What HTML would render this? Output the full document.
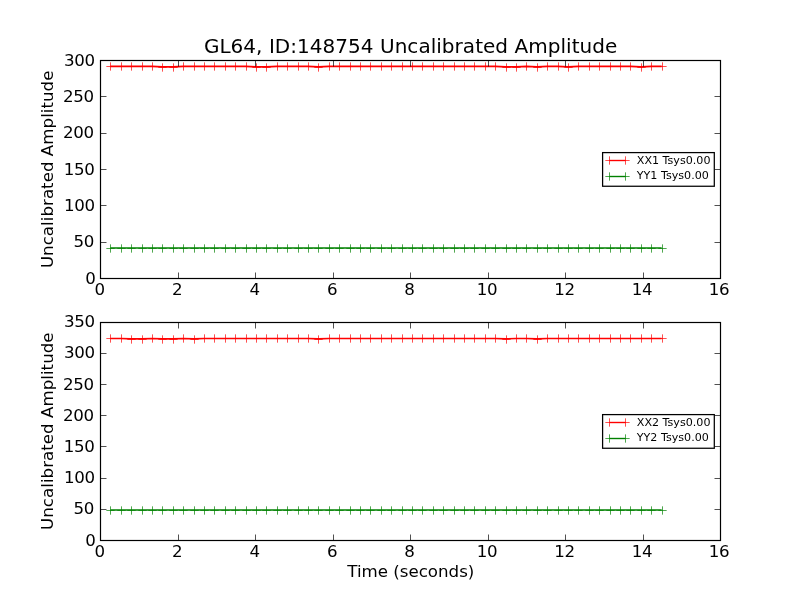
<!DOCTYPE html>
<html lang="en"><head><meta charset="utf-8"><title>GL64, ID:148754 Uncalibrated Amplitude</title>
<style>html,body{margin:0;padding:0;background:#fff;overflow:hidden}svg{display:block}text{white-space:pre}</style>
</head><body>
<svg width="800" height="600" viewBox="0 0 800 600" font-family='"DejaVu Sans","Liberation Sans",sans-serif' fill="#000">
<rect width="800" height="600" fill="#fff"/>
<polyline points="110.40,66.35 120.80,66.35 131.21,66.35 141.61,66.35 152.01,66.35 162.41,66.85 172.81,66.85 183.21,66.35 193.62,66.35 204.02,66.35 214.42,66.35 224.82,66.35 235.22,66.35 245.63,66.35 256.03,66.85 266.43,66.85 276.83,66.35 287.23,66.35 297.64,66.35 308.04,66.35 318.44,66.85 328.84,66.35 339.24,66.35 349.64,66.35 360.05,66.35 370.45,66.35 380.85,66.35 391.25,66.35 401.65,66.35 412.06,66.35 422.46,66.35 432.86,66.35 443.26,66.35 453.66,66.35 464.07,66.35 474.47,66.35 484.87,66.35 495.27,66.35 505.67,66.85 516.07,66.85 526.48,66.35 536.88,66.85 547.28,66.35 557.68,66.35 568.08,66.85 578.49,66.35 588.89,66.35 599.29,66.35 609.69,66.35 620.09,66.35 630.50,66.35 640.90,66.85 651.30,66.35 661.70,66.35" fill="none" stroke="#ff0000" stroke-width="1.6" stroke-linejoin="round"/>
<path d="M106.33 66.5h8.34M110.5 62.33v8.34M117.33 66.5h8.34M121.5 62.33v8.34M127.33 66.5h8.34M131.5 62.33v8.34M138.33 66.5h8.34M142.5 62.33v8.34M148.33 66.5h8.34M152.5 62.33v8.34M158.33 67.5h8.34M162.5 63.33v8.34M169.33 67.5h8.34M173.5 63.33v8.34M179.33 66.5h8.34M183.5 62.33v8.34M190.33 66.5h8.34M194.5 62.33v8.34M200.33 66.5h8.34M204.5 62.33v8.34M210.33 66.5h8.34M214.5 62.33v8.34M221.33 66.5h8.34M225.5 62.33v8.34M231.33 66.5h8.34M235.5 62.33v8.34M242.33 66.5h8.34M246.5 62.33v8.34M252.33 67.5h8.34M256.5 63.33v8.34M262.33 67.5h8.34M266.5 63.33v8.34M273.33 66.5h8.34M277.5 62.33v8.34M283.33 66.5h8.34M287.5 62.33v8.34M294.33 66.5h8.34M298.5 62.33v8.34M304.33 66.5h8.34M308.5 62.33v8.34M314.33 67.5h8.34M318.5 63.33v8.34M325.33 66.5h8.34M329.5 62.33v8.34M335.33 66.5h8.34M339.5 62.33v8.34M346.33 66.5h8.34M350.5 62.33v8.34M356.33 66.5h8.34M360.5 62.33v8.34M366.33 66.5h8.34M370.5 62.33v8.34M377.33 66.5h8.34M381.5 62.33v8.34M387.33 66.5h8.34M391.5 62.33v8.34M398.33 66.5h8.34M402.5 62.33v8.34M408.33 66.5h8.34M412.5 62.33v8.34M418.33 66.5h8.34M422.5 62.33v8.34M429.33 66.5h8.34M433.5 62.33v8.34M439.33 66.5h8.34M443.5 62.33v8.34M450.33 66.5h8.34M454.5 62.33v8.34M460.33 66.5h8.34M464.5 62.33v8.34M470.33 66.5h8.34M474.5 62.33v8.34M481.33 66.5h8.34M485.5 62.33v8.34M491.33 66.5h8.34M495.5 62.33v8.34M502.33 67.5h8.34M506.5 63.33v8.34M512.33 67.5h8.34M516.5 63.33v8.34M522.33 66.5h8.34M526.5 62.33v8.34M533.33 67.5h8.34M537.5 63.33v8.34M543.33 66.5h8.34M547.5 62.33v8.34M554.33 66.5h8.34M558.5 62.33v8.34M564.33 67.5h8.34M568.5 63.33v8.34M574.33 66.5h8.34M578.5 62.33v8.34M585.33 66.5h8.34M589.5 62.33v8.34M595.33 66.5h8.34M599.5 62.33v8.34M606.33 66.5h8.34M610.5 62.33v8.34M616.33 66.5h8.34M620.5 62.33v8.34M626.33 66.5h8.34M630.5 62.33v8.34M637.33 67.5h8.34M641.5 63.33v8.34M647.33 66.5h8.34M651.5 62.33v8.34M658.33 66.5h8.34M662.5 62.33v8.34" fill="none" stroke="#ff0000" stroke-width="0.69"/>
<polyline points="110.40,248.00 120.80,248.00 131.21,248.00 141.61,248.00 152.01,248.00 162.41,248.00 172.81,248.00 183.21,248.00 193.62,248.00 204.02,248.00 214.42,248.00 224.82,248.00 235.22,248.00 245.63,248.00 256.03,248.00 266.43,248.00 276.83,248.00 287.23,248.00 297.64,248.00 308.04,248.00 318.44,248.00 328.84,248.00 339.24,248.00 349.64,248.00 360.05,248.00 370.45,248.00 380.85,248.00 391.25,248.00 401.65,248.00 412.06,248.00 422.46,248.00 432.86,248.00 443.26,248.00 453.66,248.00 464.07,248.00 474.47,248.00 484.87,248.00 495.27,248.00 505.67,248.00 516.07,248.00 526.48,248.00 536.88,248.00 547.28,248.00 557.68,248.00 568.08,248.00 578.49,248.00 588.89,248.00 599.29,248.00 609.69,248.00 620.09,248.00 630.50,248.00 640.90,248.00 651.30,248.00 661.70,248.00" fill="none" stroke="#008000" stroke-width="1.6" stroke-linejoin="round"/>
<path d="M106.33 248.5h8.34M110.5 244.33v8.34M117.33 248.5h8.34M121.5 244.33v8.34M127.33 248.5h8.34M131.5 244.33v8.34M138.33 248.5h8.34M142.5 244.33v8.34M148.33 248.5h8.34M152.5 244.33v8.34M158.33 248.5h8.34M162.5 244.33v8.34M169.33 248.5h8.34M173.5 244.33v8.34M179.33 248.5h8.34M183.5 244.33v8.34M190.33 248.5h8.34M194.5 244.33v8.34M200.33 248.5h8.34M204.5 244.33v8.34M210.33 248.5h8.34M214.5 244.33v8.34M221.33 248.5h8.34M225.5 244.33v8.34M231.33 248.5h8.34M235.5 244.33v8.34M242.33 248.5h8.34M246.5 244.33v8.34M252.33 248.5h8.34M256.5 244.33v8.34M262.33 248.5h8.34M266.5 244.33v8.34M273.33 248.5h8.34M277.5 244.33v8.34M283.33 248.5h8.34M287.5 244.33v8.34M294.33 248.5h8.34M298.5 244.33v8.34M304.33 248.5h8.34M308.5 244.33v8.34M314.33 248.5h8.34M318.5 244.33v8.34M325.33 248.5h8.34M329.5 244.33v8.34M335.33 248.5h8.34M339.5 244.33v8.34M346.33 248.5h8.34M350.5 244.33v8.34M356.33 248.5h8.34M360.5 244.33v8.34M366.33 248.5h8.34M370.5 244.33v8.34M377.33 248.5h8.34M381.5 244.33v8.34M387.33 248.5h8.34M391.5 244.33v8.34M398.33 248.5h8.34M402.5 244.33v8.34M408.33 248.5h8.34M412.5 244.33v8.34M418.33 248.5h8.34M422.5 244.33v8.34M429.33 248.5h8.34M433.5 244.33v8.34M439.33 248.5h8.34M443.5 244.33v8.34M450.33 248.5h8.34M454.5 244.33v8.34M460.33 248.5h8.34M464.5 244.33v8.34M470.33 248.5h8.34M474.5 244.33v8.34M481.33 248.5h8.34M485.5 244.33v8.34M491.33 248.5h8.34M495.5 244.33v8.34M502.33 248.5h8.34M506.5 244.33v8.34M512.33 248.5h8.34M516.5 244.33v8.34M522.33 248.5h8.34M526.5 244.33v8.34M533.33 248.5h8.34M537.5 244.33v8.34M543.33 248.5h8.34M547.5 244.33v8.34M554.33 248.5h8.34M558.5 244.33v8.34M564.33 248.5h8.34M568.5 244.33v8.34M574.33 248.5h8.34M578.5 244.33v8.34M585.33 248.5h8.34M589.5 244.33v8.34M595.33 248.5h8.34M599.5 244.33v8.34M606.33 248.5h8.34M610.5 244.33v8.34M616.33 248.5h8.34M620.5 244.33v8.34M626.33 248.5h8.34M630.5 244.33v8.34M637.33 248.5h8.34M641.5 244.33v8.34M647.33 248.5h8.34M651.5 244.33v8.34M658.33 248.5h8.34M662.5 244.33v8.34" fill="none" stroke="#008000" stroke-width="0.69"/>
<path d="M100.5 278.5v-6.0M100.5 60.5v6.0M178.5 278.5v-6.0M178.5 60.5v6.0M255.5 278.5v-6.0M255.5 60.5v6.0M333.5 278.5v-6.0M333.5 60.5v6.0M410.5 278.5v-6.0M410.5 60.5v6.0M488.5 278.5v-6.0M488.5 60.5v6.0M565.5 278.5v-6.0M565.5 60.5v6.0M643.5 278.5v-6.0M643.5 60.5v6.0M720.5 278.5v-6.0M720.5 60.5v6.0M100.5 278.5h6.0M720.5 278.5h-6.0M100.5 242.5h6.0M720.5 242.5h-6.0M100.5 205.5h6.0M720.5 205.5h-6.0M100.5 169.5h6.0M720.5 169.5h-6.0M100.5 133.5h6.0M720.5 133.5h-6.0M100.5 96.5h6.0M720.5 96.5h-6.0M100.5 60.5h6.0M720.5 60.5h-6.0" fill="none" stroke="#000" stroke-width="0.69"/>
<rect x="100.5" y="60.5" width="620.0" height="218.0" fill="none" stroke="#000" stroke-width="1.2"/>
<g font-size="16.67px">
<text x="99.60" y="294.68" text-anchor="middle" letter-spacing="-0.35">0</text>
<text x="177.10" y="294.68" text-anchor="middle" letter-spacing="-0.35">2</text>
<text x="254.60" y="294.68" text-anchor="middle" letter-spacing="-0.35">4</text>
<text x="332.10" y="294.68" text-anchor="middle" letter-spacing="-0.35">6</text>
<text x="409.30" y="294.68" text-anchor="middle" letter-spacing="-0.35">8</text>
<text x="486.90" y="294.68" text-anchor="middle" letter-spacing="-0.35">10</text>
<text x="564.40" y="294.68" text-anchor="middle" letter-spacing="-0.35">12</text>
<text x="641.90" y="294.68" text-anchor="middle" letter-spacing="-0.35">14</text>
<text x="719.10" y="294.68" text-anchor="middle" letter-spacing="-0.35">16</text>
<text x="95.42" y="284.05" text-anchor="end" letter-spacing="-0.35">0</text>
<text x="93.95" y="247.05" text-anchor="end" letter-spacing="-0.35">50</text>
<text x="94.75" y="211.05" text-anchor="end" letter-spacing="-0.35">100</text>
<text x="94.45" y="175.05" text-anchor="end" letter-spacing="-0.35">150</text>
<text x="93.75" y="138.05" text-anchor="end" letter-spacing="-0.35">200</text>
<text x="93.75" y="102.05" text-anchor="end" letter-spacing="-0.35">250</text>
<text x="94.75" y="66.05" text-anchor="end" letter-spacing="-0.35">300</text>
<text transform="translate(53.3 169.34) rotate(-90)" text-anchor="middle" letter-spacing="0.025">Uncalibrated Amplitude</text>
</g>
<rect x="602.6" y="152.60" width="111.70" height="33.65" fill="#fff" stroke="#000" stroke-width="1.25"/>
<path d="M609.5 160.5H625.5" stroke="#ff0000" stroke-width="1.39" fill="none"/>
<path d="M605.33 160.5h8.34M609.5 156.33v8.34M621.33 160.5h8.34M625.5 156.33v8.34" stroke="#ff0000" stroke-width="0.69" fill="none"/>
<text x="636.8" y="164.19" font-size="11.11px">XX1 Tsys0.00</text>
<path d="M609.5 176.5H625.5" stroke="#008000" stroke-width="1.39" fill="none"/>
<path d="M605.33 176.5h8.34M609.5 172.33v8.34M621.33 176.5h8.34M625.5 172.33v8.34" stroke="#008000" stroke-width="0.69" fill="none"/>
<text x="636.8" y="179.19" font-size="11.11px">YY1 Tsys0.00</text>
<polyline points="110.40,338.50 120.80,338.50 131.21,338.90 141.61,338.90 152.01,338.50 162.41,338.90 172.81,338.90 183.21,338.50 193.62,338.90 204.02,338.50 214.42,338.50 224.82,338.50 235.22,338.50 245.63,338.50 256.03,338.50 266.43,338.50 276.83,338.50 287.23,338.50 297.64,338.50 308.04,338.50 318.44,338.90 328.84,338.50 339.24,338.50 349.64,338.50 360.05,338.50 370.45,338.50 380.85,338.50 391.25,338.50 401.65,338.50 412.06,338.50 422.46,338.50 432.86,338.50 443.26,338.50 453.66,338.50 464.07,338.50 474.47,338.50 484.87,338.50 495.27,338.50 505.67,338.90 516.07,338.50 526.48,338.50 536.88,338.90 547.28,338.50 557.68,338.50 568.08,338.50 578.49,338.50 588.89,338.50 599.29,338.50 609.69,338.50 620.09,338.50 630.50,338.50 640.90,338.50 651.30,338.50 661.70,338.50" fill="none" stroke="#ff0000" stroke-width="1.6" stroke-linejoin="round"/>
<path d="M106.33 338.5h8.34M110.5 334.33v8.34M117.33 338.5h8.34M121.5 334.33v8.34M127.33 339.5h8.34M131.5 335.33v8.34M138.33 339.5h8.34M142.5 335.33v8.34M148.33 338.5h8.34M152.5 334.33v8.34M158.33 339.5h8.34M162.5 335.33v8.34M169.33 339.5h8.34M173.5 335.33v8.34M179.33 338.5h8.34M183.5 334.33v8.34M190.33 339.5h8.34M194.5 335.33v8.34M200.33 338.5h8.34M204.5 334.33v8.34M210.33 338.5h8.34M214.5 334.33v8.34M221.33 338.5h8.34M225.5 334.33v8.34M231.33 338.5h8.34M235.5 334.33v8.34M242.33 338.5h8.34M246.5 334.33v8.34M252.33 338.5h8.34M256.5 334.33v8.34M262.33 338.5h8.34M266.5 334.33v8.34M273.33 338.5h8.34M277.5 334.33v8.34M283.33 338.5h8.34M287.5 334.33v8.34M294.33 338.5h8.34M298.5 334.33v8.34M304.33 338.5h8.34M308.5 334.33v8.34M314.33 339.5h8.34M318.5 335.33v8.34M325.33 338.5h8.34M329.5 334.33v8.34M335.33 338.5h8.34M339.5 334.33v8.34M346.33 338.5h8.34M350.5 334.33v8.34M356.33 338.5h8.34M360.5 334.33v8.34M366.33 338.5h8.34M370.5 334.33v8.34M377.33 338.5h8.34M381.5 334.33v8.34M387.33 338.5h8.34M391.5 334.33v8.34M398.33 338.5h8.34M402.5 334.33v8.34M408.33 338.5h8.34M412.5 334.33v8.34M418.33 338.5h8.34M422.5 334.33v8.34M429.33 338.5h8.34M433.5 334.33v8.34M439.33 338.5h8.34M443.5 334.33v8.34M450.33 338.5h8.34M454.5 334.33v8.34M460.33 338.5h8.34M464.5 334.33v8.34M470.33 338.5h8.34M474.5 334.33v8.34M481.33 338.5h8.34M485.5 334.33v8.34M491.33 338.5h8.34M495.5 334.33v8.34M502.33 339.5h8.34M506.5 335.33v8.34M512.33 338.5h8.34M516.5 334.33v8.34M522.33 338.5h8.34M526.5 334.33v8.34M533.33 339.5h8.34M537.5 335.33v8.34M543.33 338.5h8.34M547.5 334.33v8.34M554.33 338.5h8.34M558.5 334.33v8.34M564.33 338.5h8.34M568.5 334.33v8.34M574.33 338.5h8.34M578.5 334.33v8.34M585.33 338.5h8.34M589.5 334.33v8.34M595.33 338.5h8.34M599.5 334.33v8.34M606.33 338.5h8.34M610.5 334.33v8.34M616.33 338.5h8.34M620.5 334.33v8.34M626.33 338.5h8.34M630.5 334.33v8.34M637.33 338.5h8.34M641.5 334.33v8.34M647.33 338.5h8.34M651.5 334.33v8.34M658.33 338.5h8.34M662.5 334.33v8.34" fill="none" stroke="#ff0000" stroke-width="0.69"/>
<polyline points="110.40,510.00 120.80,510.00 131.21,510.00 141.61,510.00 152.01,510.00 162.41,510.00 172.81,510.00 183.21,510.00 193.62,510.00 204.02,510.00 214.42,510.00 224.82,510.00 235.22,510.00 245.63,510.00 256.03,510.00 266.43,510.00 276.83,510.00 287.23,510.00 297.64,510.00 308.04,510.00 318.44,510.00 328.84,510.00 339.24,510.00 349.64,510.00 360.05,510.00 370.45,510.00 380.85,510.00 391.25,510.00 401.65,510.00 412.06,510.00 422.46,510.00 432.86,510.00 443.26,510.00 453.66,510.00 464.07,510.00 474.47,510.00 484.87,510.00 495.27,510.00 505.67,510.00 516.07,510.00 526.48,510.00 536.88,510.00 547.28,510.00 557.68,510.00 568.08,510.00 578.49,510.00 588.89,510.00 599.29,510.00 609.69,510.00 620.09,510.00 630.50,510.00 640.90,510.00 651.30,510.00 661.70,510.00" fill="none" stroke="#008000" stroke-width="1.6" stroke-linejoin="round"/>
<path d="M106.33 510.5h8.34M110.5 506.33v8.34M117.33 510.5h8.34M121.5 506.33v8.34M127.33 510.5h8.34M131.5 506.33v8.34M138.33 510.5h8.34M142.5 506.33v8.34M148.33 510.5h8.34M152.5 506.33v8.34M158.33 510.5h8.34M162.5 506.33v8.34M169.33 510.5h8.34M173.5 506.33v8.34M179.33 510.5h8.34M183.5 506.33v8.34M190.33 510.5h8.34M194.5 506.33v8.34M200.33 510.5h8.34M204.5 506.33v8.34M210.33 510.5h8.34M214.5 506.33v8.34M221.33 510.5h8.34M225.5 506.33v8.34M231.33 510.5h8.34M235.5 506.33v8.34M242.33 510.5h8.34M246.5 506.33v8.34M252.33 510.5h8.34M256.5 506.33v8.34M262.33 510.5h8.34M266.5 506.33v8.34M273.33 510.5h8.34M277.5 506.33v8.34M283.33 510.5h8.34M287.5 506.33v8.34M294.33 510.5h8.34M298.5 506.33v8.34M304.33 510.5h8.34M308.5 506.33v8.34M314.33 510.5h8.34M318.5 506.33v8.34M325.33 510.5h8.34M329.5 506.33v8.34M335.33 510.5h8.34M339.5 506.33v8.34M346.33 510.5h8.34M350.5 506.33v8.34M356.33 510.5h8.34M360.5 506.33v8.34M366.33 510.5h8.34M370.5 506.33v8.34M377.33 510.5h8.34M381.5 506.33v8.34M387.33 510.5h8.34M391.5 506.33v8.34M398.33 510.5h8.34M402.5 506.33v8.34M408.33 510.5h8.34M412.5 506.33v8.34M418.33 510.5h8.34M422.5 506.33v8.34M429.33 510.5h8.34M433.5 506.33v8.34M439.33 510.5h8.34M443.5 506.33v8.34M450.33 510.5h8.34M454.5 506.33v8.34M460.33 510.5h8.34M464.5 506.33v8.34M470.33 510.5h8.34M474.5 506.33v8.34M481.33 510.5h8.34M485.5 506.33v8.34M491.33 510.5h8.34M495.5 506.33v8.34M502.33 510.5h8.34M506.5 506.33v8.34M512.33 510.5h8.34M516.5 506.33v8.34M522.33 510.5h8.34M526.5 506.33v8.34M533.33 510.5h8.34M537.5 506.33v8.34M543.33 510.5h8.34M547.5 506.33v8.34M554.33 510.5h8.34M558.5 506.33v8.34M564.33 510.5h8.34M568.5 506.33v8.34M574.33 510.5h8.34M578.5 506.33v8.34M585.33 510.5h8.34M589.5 506.33v8.34M595.33 510.5h8.34M599.5 506.33v8.34M606.33 510.5h8.34M610.5 506.33v8.34M616.33 510.5h8.34M620.5 506.33v8.34M626.33 510.5h8.34M630.5 506.33v8.34M637.33 510.5h8.34M641.5 506.33v8.34M647.33 510.5h8.34M651.5 506.33v8.34M658.33 510.5h8.34M662.5 506.33v8.34" fill="none" stroke="#008000" stroke-width="0.69"/>
<path d="M100.5 540.5v-6.0M100.5 322.5v6.0M178.5 540.5v-6.0M178.5 322.5v6.0M255.5 540.5v-6.0M255.5 322.5v6.0M333.5 540.5v-6.0M333.5 322.5v6.0M410.5 540.5v-6.0M410.5 322.5v6.0M488.5 540.5v-6.0M488.5 322.5v6.0M565.5 540.5v-6.0M565.5 322.5v6.0M643.5 540.5v-6.0M643.5 322.5v6.0M720.5 540.5v-6.0M720.5 322.5v6.0M100.5 540.5h6.0M720.5 540.5h-6.0M100.5 509.5h6.0M720.5 509.5h-6.0M100.5 478.5h6.0M720.5 478.5h-6.0M100.5 446.5h6.0M720.5 446.5h-6.0M100.5 415.5h6.0M720.5 415.5h-6.0M100.5 384.5h6.0M720.5 384.5h-6.0M100.5 353.5h6.0M720.5 353.5h-6.0M100.5 322.5h6.0M720.5 322.5h-6.0" fill="none" stroke="#000" stroke-width="0.69"/>
<rect x="100.5" y="322.5" width="620.0" height="218.0" fill="none" stroke="#000" stroke-width="1.2"/>
<g font-size="16.67px">
<text x="99.60" y="556.50" text-anchor="middle" letter-spacing="-0.35">0</text>
<text x="177.10" y="556.50" text-anchor="middle" letter-spacing="-0.35">2</text>
<text x="254.60" y="556.50" text-anchor="middle" letter-spacing="-0.35">4</text>
<text x="332.10" y="556.50" text-anchor="middle" letter-spacing="-0.35">6</text>
<text x="409.30" y="556.50" text-anchor="middle" letter-spacing="-0.35">8</text>
<text x="486.90" y="556.50" text-anchor="middle" letter-spacing="-0.35">10</text>
<text x="564.40" y="556.50" text-anchor="middle" letter-spacing="-0.35">12</text>
<text x="641.90" y="556.50" text-anchor="middle" letter-spacing="-0.35">14</text>
<text x="719.10" y="556.50" text-anchor="middle" letter-spacing="-0.35">16</text>
<text x="95.42" y="546.05" text-anchor="end" letter-spacing="-0.35">0</text>
<text x="93.95" y="514.05" text-anchor="end" letter-spacing="-0.35">50</text>
<text x="94.75" y="483.05" text-anchor="end" letter-spacing="-0.35">100</text>
<text x="94.45" y="452.05" text-anchor="end" letter-spacing="-0.35">150</text>
<text x="93.75" y="421.05" text-anchor="end" letter-spacing="-0.35">200</text>
<text x="93.75" y="390.05" text-anchor="end" letter-spacing="-0.35">250</text>
<text x="94.75" y="358.05" text-anchor="end" letter-spacing="-0.35">300</text>
<text x="94.75" y="327.05" text-anchor="end" letter-spacing="-0.35">350</text>
<text transform="translate(53.3 431.16) rotate(-90)" text-anchor="middle" letter-spacing="0.025">Uncalibrated Amplitude</text>
</g>
<rect x="602.6" y="414.60" width="111.70" height="33.65" fill="#fff" stroke="#000" stroke-width="1.25"/>
<path d="M609.5 422.5H625.5" stroke="#ff0000" stroke-width="1.39" fill="none"/>
<path d="M605.33 422.5h8.34M609.5 418.33v8.34M621.33 422.5h8.34M625.5 418.33v8.34" stroke="#ff0000" stroke-width="0.69" fill="none"/>
<text x="636.8" y="426.19" font-size="11.11px">XX2 Tsys0.00</text>
<path d="M609.5 438.5H625.5" stroke="#008000" stroke-width="1.39" fill="none"/>
<path d="M605.33 438.5h8.34M609.5 434.33v8.34M621.33 438.5h8.34M625.5 434.33v8.34" stroke="#008000" stroke-width="0.69" fill="none"/>
<text x="636.8" y="441.19" font-size="11.11px">YY2 Tsys0.00</text>
<text x="410.6" y="53.2" font-size="20px" text-anchor="middle" letter-spacing="0.035">GL64, ID:148754 Uncalibrated Amplitude</text>
<text x="410.8" y="576.8" font-size="16.67px" text-anchor="middle">Time (seconds)</text>
</svg>
</body></html>
